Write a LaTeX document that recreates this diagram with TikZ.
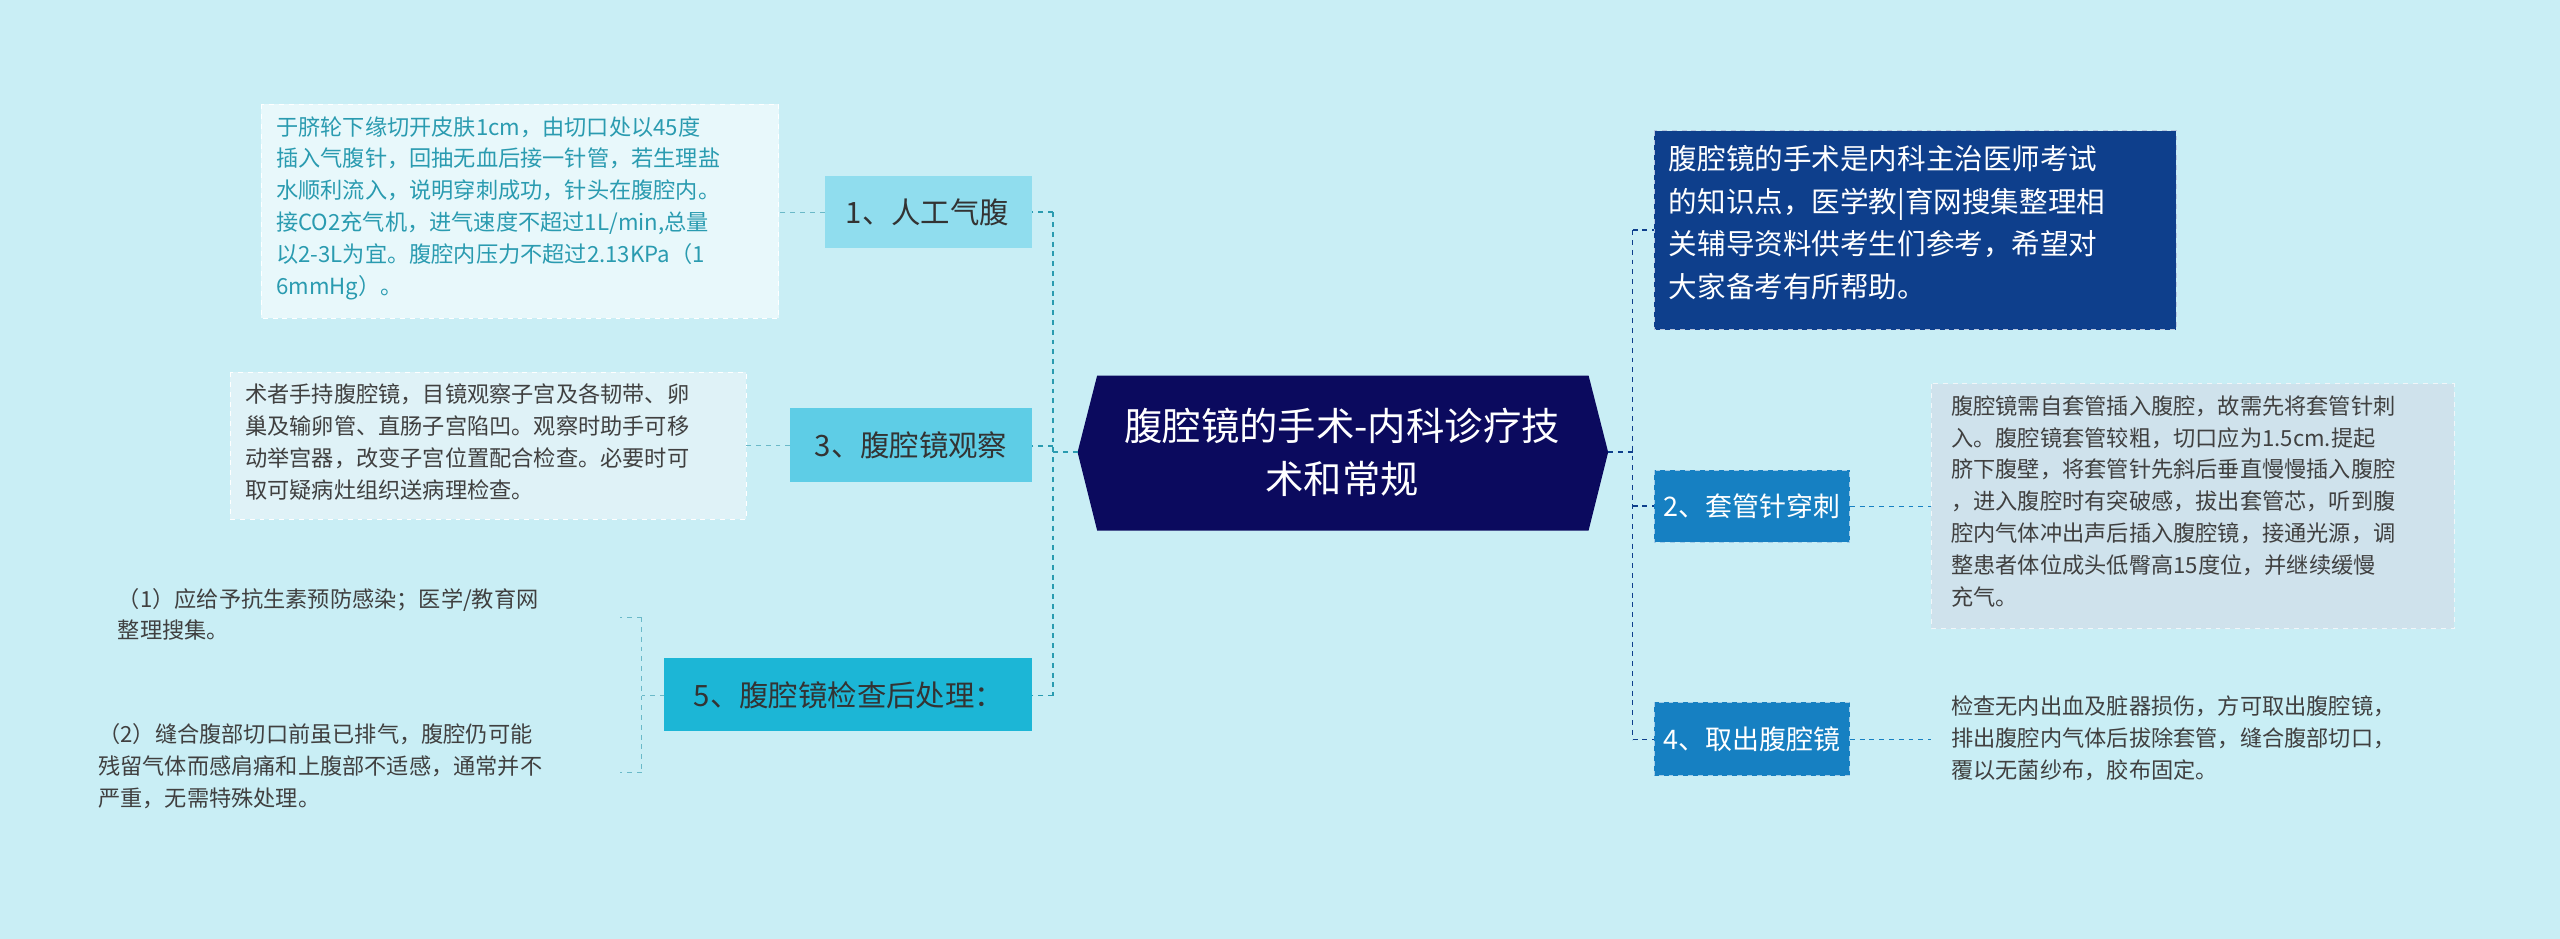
\documentclass[tikz,border=0pt]{standalone}
\usepackage{fontspec}
\setmainfont{Noto Sans CJK SC}
\usetikzlibrary{shapes.misc}
\definecolor{bg}{HTML}{C9EEF5}
\definecolor{navy}{HTML}{0B0A5E}
\definecolor{dblue}{HTML}{0E3F8C}
\definecolor{mblue}{HTML}{1680C2}
\definecolor{greyb}{HTML}{CFE2EC}
\definecolor{c1}{HTML}{90DDEE}
\definecolor{c3}{HTML}{5ECDE6}
\definecolor{c5}{HTML}{1CB6D6}
\definecolor{teal}{HTML}{2A9BB0}
\definecolor{lt1}{HTML}{E8F8FB}
\definecolor{lt3}{HTML}{DFF2F7}
\tikzset{
 small/.style={font=\fontsize{13.6}{19.5}\selectfont,align=left,anchor=north west,inner sep=0pt,text=black!75},
 lbl/.style={font=\fontsize{18}{20}\selectfont},
 lblr/.style={font=\fontsize{16.5}{20}\selectfont,text=white},
 conL/.style={teal,dashed,line width=1pt},
 conR/.style={dblue,dashed,line width=1pt},
}
\begin{document}
\begin{tikzpicture}[x=1pt,y=-1pt]
\fill[bg] (0,0) rectangle (1568,575);
\useasboundingbox (0,0) rectangle (1568,575);
% center
\fill[navy] (672,230) -- (973,230) -- (985,277) -- (973,325) -- (672,325) -- (660,277) -- cycle;
\node[text=white,font=\fontsize{23.5}{33}\selectfont,align=center] (c) at (822,277) {腹腔镜的手术-内科诊疗技\\术和常规};
\coordinate (cl) at (660,277); \coordinate (cr) at (985,277);
% right
\fill[dblue] (1013,80) rectangle (1333,202); \draw[white!70!dblue,dashed] (1013,80) rectangle (1333,202);
\node[anchor=north west,text=white,font=\fontsize{17.5}{26}\selectfont,align=left,inner sep=0pt] (r0) at (1022,89) {腹腔镜的手术是内科主治医师考试\\的知识点，医学教|育网搜集整理相\\关辅导资料供考生们参考，希望对\\大家备考有所帮助。};
\coordinate (r0a) at (1013,141);
\fill[mblue] (1013,288) rectangle (1133,332); \draw[white!60!mblue,dashed] (1013,288) rectangle (1133,332);
\node[lblr] (r2) at (1073,310) {2、套管针穿刺};
\fill[mblue] (1013,430) rectangle (1133,475); \draw[white!60!mblue,dashed] (1013,430) rectangle (1133,475);
\node[lblr] (r4) at (1073,453) {4、取出腹腔镜};
\fill[greyb] (1183,235) rectangle (1503,385); \draw[white!70!greyb,dashed] (1183,235) rectangle (1503,385);
\node[small] (t2) at (1195,242) {腹腔镜需自套管插入腹腔，故需先将套管针刺\\入。腹腔镜套管较粗，切口应为1.5cm.提起\\脐下腹壁，将套管针先斜后垂直慢慢插入腹腔\\，进入腹腔时有突破感，拔出套管芯，听到腹\\腔内气体冲出声后插入腹腔镜，接通光源，调\\整患者体位成头低臀高15度位，并继续缓慢\\充气。};
\node[small] (t4) at (1195,426) {检查无内出血及脏器损伤，方可取出腹腔镜，\\排出腹腔内气体后拔除套管，缝合腹部切口，\\覆以无菌纱布，胶布固定。};
\draw[conR] (cr) -- (1000,277) (1000,141) -- (1000,453);
\draw[conR] (1000,141) -- (r0a);
\draw[conR] (1000,310) -- (1013,310);
\draw[conR] (1000,453) -- (1013,453);
\draw[mblue,dashed] (1133,310) -- (1183,310);
\draw[mblue,dashed] (1133,453) -- (1183,453);
% left
\fill[c1] (505,108) rectangle (632,152);
\node[lbl,text=black!80] (l1) at (568,130) {1、人工气腹};
\fill[c3] (484,250) rectangle (632,295);
\node[lbl,text=black!80] (l3) at (558,273) {3、腹腔镜观察};
\fill[c5] (407,403) rectangle (632,448);
\node[lbl,text=black!80] (l5) at (520,426) {5、腹腔镜检查后处理：};
\fill[lt1] (160,64) rectangle (477,195); \draw[white,dashed] (160,64) rectangle (477,195);
\node[small,text=teal] (t1) at (169,71) {于脐轮下缘切开皮肤1cm，由切口处以45度\\插入气腹针，回抽无血后接一针管，若生理盐\\水顺利流入，说明穿刺成功，针头在腹腔内。\\接CO2充气机，进气速度不超过1L/min,总量\\以2-3L为宜。腹腔内压力不超过2.13KPa（1\\6mmHg）。};
\fill[lt3] (141,228) rectangle (457,318); \draw[white,dashed] (141,228) rectangle (457,318);
\node[small] (t3) at (150,235) {术者手持腹腔镜，目镜观察子宫及各韧带、卵\\巢及输卵管、直肠子宫陷凹。观察时助手可移\\动举宫器，改变子宫位置配合检查。必要时可\\取可疑病灶组织送病理检查。};
\node[small] (t51) at (72,360) {（1）应给予抗生素预防感染；医学/教育网\\整理搜集。};
\node[small] (t52) at (60,443) {（2）缝合腹部切口前虽已排气，腹腔仍可能\\残留气体而感肩痛和上腹部不适感，通常并不\\严重，无需特殊处理。};
\draw[conL] (cl) -- (645,277) (645,130) -- (645,426);
\draw[conL] (645,130) -- (632,130) (645,273) -- (632,273) (645,426) -- (632,426);
\draw[teal!70,dashed] (505,130) -- (477,130);
\draw[teal!70,dashed] (484,273) -- (457,273);
\draw[teal!70,dashed] (407,426) -- (393,426) (393,378) -- (393,473) (393,378) -- (380,378) (393,473) -- (380,473);
\end{tikzpicture}
\end{document}
